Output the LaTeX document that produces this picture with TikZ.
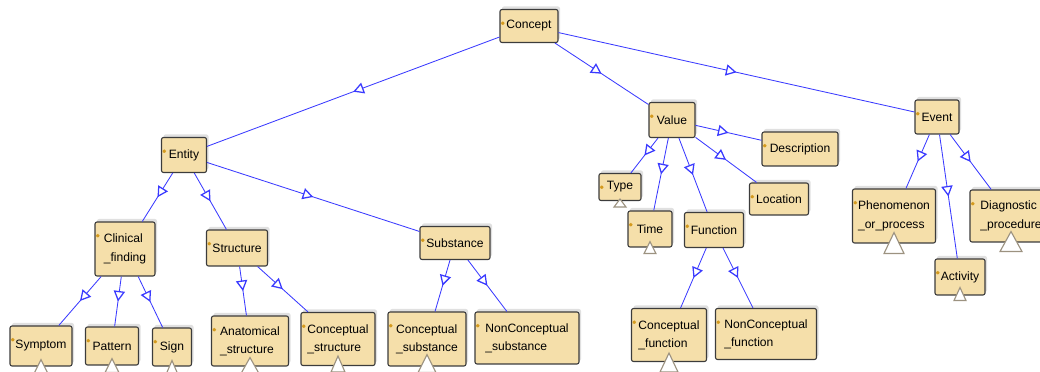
\documentclass[tikz,border=0pt]{standalone}
\usepackage{fontspec}
\setmainfont{Liberation Sans}
\usetikzlibrary{arrows.meta,decorations.markings,shadows}
\newdimen\px \px=0.025cm
\definecolor{classfill}{HTML}{F5DFAA}
\definecolor{classline}{HTML}{3C3C3C}
\definecolor{isaline}{HTML}{3A3AFF}
\definecolor{dotcol}{HTML}{D49A1E}
\definecolor{foldline}{HTML}{9C9280}
\tikzset{
  cls/.style={draw=classline, fill=classfill, rounded corners=2\px, line width=1.1\px,
    inner sep=0pt, align=left, font=\fontsize{8.6}{13}\selectfont,
    drop shadow={shadow xshift=2\px, shadow yshift=3\px, fill=black, opacity=.12},
    path picture={\fill[dotcol] ([shift={(1\px,-12\px)}]path picture bounding box.north west) rectangle ++(3.5\px,-3.5\px);}},
  sz/.style 2 args={minimum width=#1\px, minimum height=#2\px},
  isa/.style={draw=isaline, line width=0.6pt, postaction=decorate,
    decoration={markings, mark=at position 0.5 with {\arrow{Triangle[fill=white, line width=0.9pt, length=7.5pt, width=8pt]}}}},
  fold/.style={draw=foldline, fill=white, line width=0.8pt}
}
\begin{document}
\begin{tikzpicture}[x=0.025cm, y=-0.025cm]
\useasboundingbox (0,0) rectangle (1040,372);
\clip (0,0) rectangle (1040,372);
\node[cls, sz={58}{33}] (concept) at (529,26) {Concept};
\node[cls, sz={45}{35}] (entity) at (184,155) {Entity};
\node[cls, sz={46}{35}] (value) at (672,120) {Value};
\node[cls, sz={76}{34}] (description) at (800,149) {Description};
\node[cls, sz={44}{34}] (event) at (937,117) {Event};
\node[cls, sz={60}{54}] (clinical) at (125,249) {Clinical\\\_finding};
\node[cls, sz={61}{36}] (structure) at (237,248) {Structure};
\node[cls, sz={70}{33}] (substance) at (455,243) {Substance};
\node[cls, sz={62}{40}] (symptom) at (41,346) {Symptom};
\node[cls, sz={53}{38}] (pattern) at (112,346) {Pattern};
\node[cls, sz={39}{38}] (sign) at (172,347) {Sign};
\node[cls, sz={77}{50}] (anatomical) at (250,341) {Anatomical\\\_structure};
\node[cls, sz={74}{53}] (cstructure) at (338,339) {Conceptual\\\_structure};
\node[cls, sz={78}{54}] (csubstance) at (427,339) {Conceptual\\\_substance};
\node[cls, sz={104}{52}] (ncsubstance) at (527,338) {NonConceptual\\\_substance};
\node[cls, sz={42}{27}] (type) at (620,187) {Type};
\node[cls, sz={44}{36}] (time) at (650,229) {Time};
\node[cls, sz={59}{35}] (function) at (714,230) {Function};
\node[cls, sz={59}{32}] (location) at (779,199) {Location};
\node[cls, sz={75}{53}] (cfunction) at (669,335) {Conceptual\\\_function};
\node[cls, sz={101}{51}] (ncfunction) at (766,334) {NonConceptual\\\_function};
\node[cls, sz={83}{54}] (phenomenon) at (894,216) {Phenomenon\\\_or\_process};
\node[cls, sz={82}{52}] (diagnostic) at (1011,216) {Diagnostic\\\_procedure};
\node[cls, sz={50}{36}] (activity) at (960,277) {Activity};
\foreach \a/\b in {concept/entity, concept/value, concept/event,
    entity/clinical, entity/structure, entity/substance,
    clinical/symptom, clinical/pattern, clinical/sign,
    structure/anatomical, structure/cstructure,
    substance/csubstance, substance/ncsubstance,
    value/type, value/time, value/function, value/location, value/description,
    function/cfunction, function/ncfunction,
    event/phenomenon, event/activity, event/diagnostic}
  \draw[isa] (\a) -- (\b);
\foreach \n/\u/\w/\h in {symptom/7/7/14, pattern/7/7/14, sign/6/6/14, anatomical/9/9/16,
    cstructure/10/7/16, csubstance/12/9/18, type/2/6/8, time/6/6/12, cfunction/9/9/19,
    phenomenon/11/10/21, diagnostic/11/11/20, activity/8/6/13}
  \draw[fold] (\n.south) ++(0,-\u) -- ++(-\w,\h) -- ++(2*\w,0) -- cycle;
\end{tikzpicture}
\end{document}
